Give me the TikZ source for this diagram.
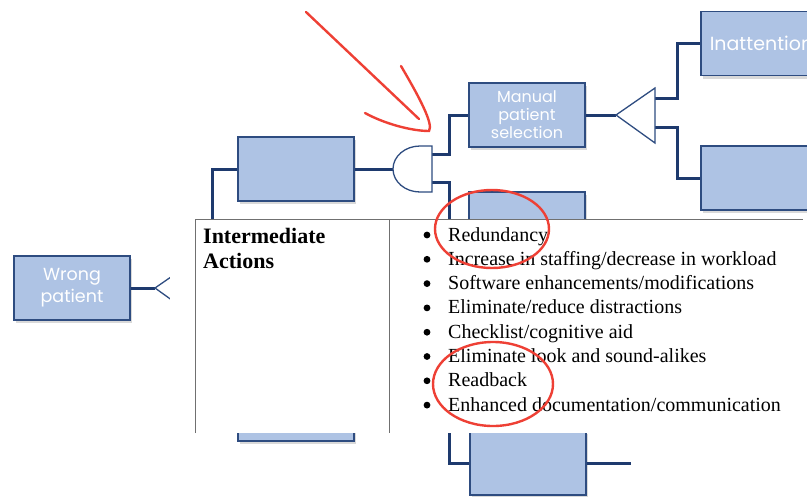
\documentclass[tikz,border=0pt]{standalone}
\usepackage{fontspec}
\setmainfont{Liberation Serif}
\newfontfamily\boxfont{Poppins}
\usetikzlibrary{positioning,shadows}
\definecolor{boxfill}{HTML}{AEC3E4}
\definecolor{boxline}{HTML}{2E4C80}
\definecolor{wirecol}{HTML}{1E3A6E}
\definecolor{penred}{HTML}{EE4035}
\definecolor{rulegray}{HTML}{707070}

\begin{document}
\begin{tikzpicture}[x=1pt, y=-1pt, node distance=109pt, on grid,
  fbox/.style={draw=boxline, fill=boxfill, line width=1.6pt, minimum width=116pt,
    minimum height=64pt, inner sep=2pt, text=white, align=center,
    drop shadow={shadow xshift=2pt, shadow yshift=-3pt, opacity=0.3}},
  wire/.style={draw=wirecol, line width=3pt},
  gate/.style={draw=boxline, fill=white, line width=1.3pt},
  pen/.style={draw=penred, line width=2.4pt, line cap=round},
  rule/.style={draw=rulegray, line width=0.8pt},
  head/.style={anchor=base west, inner sep=0pt, font=\fontsize{22}{25}\selectfont\bfseries},
  act/.style={anchor=base west, inner sep=0pt, font=\fontsize{20}{24}\selectfont}]
\useasboundingbox (0,0) rectangle (807,496);
\clip (0,0) rectangle (807,496);

% fault tree boxes
\node (wrong) [fbox, font=\boxfont\fontsize{17.5}{22}\selectfont] at (72,288) {Wrong\\patient};
\node (mid) [fbox] at (296,169) {};
\node (midlow) [fbox] at (296,409) {};
\node (manual) [fbox, font=\boxfont\fontsize{16}{18}\selectfont] at (527,115) {Manual\\patient\\selection};
\node (hidden) [fbox, below=of manual] {};
\node (lower) [fbox] at (528,463) {};
\node (inatt) [fbox, anchor=west, inner xsep=9pt, font=\boxfont\fontsize{19}{22}\selectfont] at (700,43.5) {Inattention};
\node (other) [fbox, anchor=west] at (700,178) {};

% gate corners
\coordinate (orL) at (155,288);
\coordinate (andL) at (393,169);
\coordinate (andT) at (432,154);
\coordinate (andB) at (432,182);
\coordinate (triL) at (616,115);
\coordinate (triT) at (655,98);
\coordinate (triB) at (655,127);
\coordinate (lowEnd) at (631,463);

% connectors
\draw [wire] (wrong.east) -- (orL);
\draw [wire] (mid.west) -- ++(-25,0) |- (midlow.west);
\draw [wire] (mid.east) -- (andL);
\draw [wire] (andT) -- ++(17,0) |- (manual.west);
\draw [wire] (andB) -- ++(17,0) |- (hidden.west);
\draw [wire] (andB) -- ++(17,0) |- (lower.west);
\draw [wire] (lower.east) -- (lowEnd);
\draw [wire] (manual.east) -- (triL);
\draw [wire] (triT) -- ++(22,0) |- (inatt.west);
\draw [wire] (triB) -- ++(22,0) |- (other.west);

% gates
\draw [gate] (orL) -- (194,261) -- (194,316) -- cycle;
\draw [gate] (432,146) -- (420,146) arc [start angle=90, end angle=270, x radius=27, y radius=-23] -- (432,192) -- cycle;
\draw [gate] (triL) -- (655,88) -- (655,143) -- cycle;

% pasted table
\fill [white] (170,219) rectangle (807,433);
\draw [rule] (195,433) -- (195,219) -- (803,219);
\draw [rule] (389,219) -- (389,433);
\node (head1) [head] at (203,243) {Intermediate};
\node (head2) [head] at (203,268) {Actions};
\foreach \txt [count=\i] in {Redundancy,
    Increase in staffing/decrease in workload,
    Software enhancements/modifications,
    Eliminate/reduce distractions,
    Checklist/cognitive aid,
    Eliminate look and sound-alikes,
    Readback,
    Enhanced documentation/communication} {
  \fill (427,235+24.3*\i-24.3) circle (3.4);
  \node (act\i) [act] at (448,241+24.3*\i-24.3) {\txt};
}

% red pen marks
\draw [pen] (306,12) -- (419,119);
\draw [pen] (401,66) .. controls (418,95) and (434,124) .. (429,131)
  .. controls (412,131) and (385,124) .. (365,113);
\draw [pen] (492,229) ellipse [x radius=57, y radius=39];
\draw [pen] (493,384) ellipse [x radius=60, y radius=42];
\end{tikzpicture}
\end{document}
